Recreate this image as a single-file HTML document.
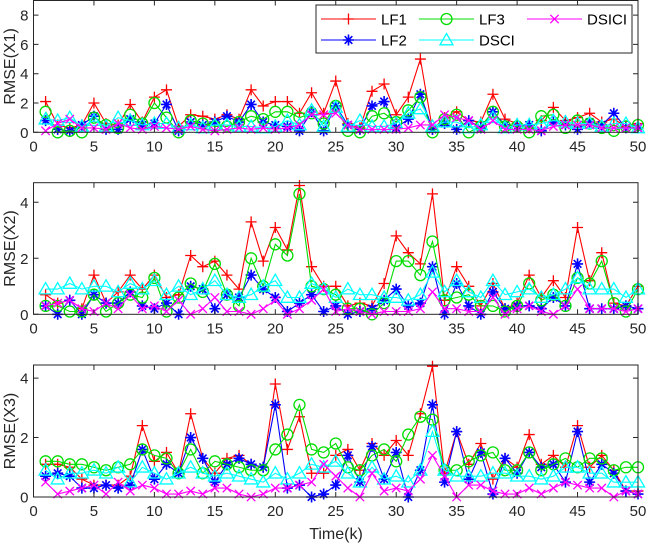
<!DOCTYPE html>
<html><head><meta charset="utf-8"><style>
html,body{margin:0;padding:0;background:#fff;}
svg{display:block;font-family:"Liberation Sans",Arial,sans-serif;}
</style></head><body>
<svg id="chart" width="647" height="546" viewBox="0 0 647 546" xmlns="http://www.w3.org/2000/svg"></svg>
<script>
const timeSteps = Array.from({length:50},(_,i)=>i+1);
const xTicks = [0,5,10,15,20,25,30,35,40,45,50];
const yTicks1 = [0,2,4,6,8];
const yTicks2 = [0,2,4];
const yTicks3 = [0,2,4];
const seriesNames = ["LF1","LF2","LF3","DSCI","DSICI"];
const x1LF1=[2.1,0.5,0.3,0.5,2.0,0.6,0.5,1.9,0.7,2.4,2.9,0.4,1.2,1.1,0.9,1.2,0.9,2.9,1.8,2.1,2.1,1.3,2.7,1.3,3.5,0.6,0.3,2.8,3.3,1.2,2.4,5.0,0.2,1.0,1.4,0.8,0.7,2.6,0.9,0.6,0.3,0.8,1.7,0.8,1.0,1.3,0.7,0.9,0.4,0.6];
const x1LF2=[0.8,0.2,0.1,0.5,1.1,0.2,0.2,0.9,0.5,0.6,1.9,0.1,0.7,0.5,0.7,1.1,0.7,1.9,0.7,0.5,0.4,0.1,1.4,0.1,1.8,0.5,0.2,1.8,2.1,0.3,0.9,2.6,0.2,0.6,0.2,0.8,0.3,1.4,0.5,0.4,0.5,0.1,0.7,0.5,0.2,0.7,0.5,1.3,0.3,0.3];
const x1LF3=[1.4,0,0.1,0,1.0,0.5,0.3,1.2,0.6,2.0,1.0,0,0.8,0.6,0.4,0.4,0.7,1.1,0.9,1.4,1.4,1.0,1.3,0.6,1.8,0.1,0,1.1,1.3,0.7,1.5,2.4,0,0.9,1.2,0,0.4,1.4,0.4,0.4,0,1.1,1.2,0.3,0.8,0.6,0.3,0.1,0.4,0.5];
const x1DSCI=[0.9,0.8,1.0,0.4,0.8,0.4,1.0,0.8,0.5,0.6,0.6,0.3,0.5,0.3,0.5,0.5,0.4,0.4,0.3,0.4,0.8,0.5,1.5,0.4,1.7,0.4,0.8,0.4,0.4,0.6,1.3,1.6,0.4,0.7,0.7,0.3,0.5,1.0,0.3,0.5,0.5,0.6,0.8,0.7,0.6,0.6,0.4,0.6,0.6,0.3];
const x1DSICI=[0.1,0.6,0.9,0.3,0.3,0.2,0.6,0.3,0.2,0.4,0.3,0.2,0.4,0.2,0.1,0.2,0.3,0.2,0.3,0.2,0.3,0.5,1.2,1.2,1.3,0.5,0.2,0.2,0.2,0.2,0.3,0.5,0.5,1.2,1.0,0.8,0.2,0.8,0.2,0.2,0.2,0.1,0.4,0.5,0.5,0.5,0.3,0.3,0.3,0.3];
const x2LF1=[0.7,0.4,0.5,0.2,1.4,0.4,0.8,1.4,0.9,1.4,0.6,0.7,2.1,1.7,1.9,1.4,0.9,3.3,1.9,3.1,2.3,4.6,1.7,1.0,1.0,0.3,0.4,0.3,1.1,2.8,2.2,1.8,4.3,0.5,1.7,1.0,0.3,1.1,0.2,0.4,1.4,0.6,1.2,0.6,3.1,1.2,2.2,0.4,0.3,1.0];
const x2LF2=[0.3,0,0.5,0,0.7,0.4,0.4,0.8,0.3,0.2,0.4,0,1.0,0.9,0.2,0.7,0.6,1.4,0.9,0.6,0.1,0.4,0.7,0.1,0.3,0,0.1,0.2,0.5,0.9,0.3,0.4,1.7,0,1.1,0.3,0,0.8,0.2,0.3,0.3,0.2,0.6,0.3,1.8,0.2,0.2,0.2,0.3,0.2];
const x2LF3=[0.3,0.3,0.1,0.1,0.7,0.1,0.4,0.7,0.6,1.3,0.1,0.6,1.1,0.8,1.8,0.7,0.3,2.0,1.0,2.5,2.1,4.3,1.0,0.9,0.7,0.2,0.2,0,0.4,1.9,1.9,1.4,2.6,0.5,0.6,0.7,0.3,0.3,0.1,0.3,1.1,0.5,0.7,0.3,1.3,1.1,1.9,0.4,0.1,0.9];
const x2DSCI=[0.9,0.9,1.1,0.9,1.0,1.0,0.8,1.1,0.9,1.2,0.7,1.0,0.7,0.9,1.2,0.7,0.6,0.7,1.0,1.2,0.6,0.6,1.1,0.9,0.6,0.9,0.7,0.7,0.6,0.6,0.5,0.7,1.5,0.8,1.2,0.8,0.6,1.2,0.7,0.8,0.9,0.6,0.7,0.9,1.3,0.9,0.9,0.9,0.6,0.9];
const x2DSICI=[0.3,0.4,0.5,0.2,0.1,0.4,0.2,0.7,0.2,0.3,0.1,0.5,0,0.2,0.6,0.1,0.1,0,0.2,0.5,0,0.2,0.5,0.9,0.1,0.2,0.1,0,0.1,0.1,0.1,0.2,0.8,0.2,0.2,0.1,0.1,0.6,0,0.2,0.3,0.1,0,0.3,0.9,0.2,0.2,0.2,0.1,0.2];
const x3LF1=[1.1,1.1,1.0,0.6,0.4,0.4,0.4,0.7,2.4,1.2,1.5,0.8,2.8,1.3,0.8,1.3,1.4,1.1,1.0,3.8,1.6,2.7,0.8,0.8,1.4,1.6,0.9,1.8,1.4,1.9,1.4,2.8,4.4,0.8,2.2,1.1,1.8,0.6,1.3,1.0,2.1,1.1,1.4,1.0,2.4,1.0,1.4,0.9,0.2,0.2];
const x3LF2=[0.7,0.8,0.7,0.3,0.3,0.4,0.3,0.4,1.6,0.6,1.1,0.8,2.0,1.3,0.5,1.1,1.3,1.1,1.0,3.1,0.3,0.4,0,0.1,0.4,1.4,0.5,1.7,0.6,1.5,0,0.9,3.1,0.5,2.2,0.6,1.5,0.1,1.3,0.8,1.5,1.0,1.1,0.5,2.2,0.5,1.1,0.8,0.2,0.1];
const x3LF3=[1.2,1.2,1.1,1.1,1.0,0.9,1.0,1.1,1.6,1.4,1.3,0.8,1.6,0.8,1.2,1.1,1.0,0.9,0.9,1.6,2.1,3.1,1.6,1.5,1.8,1.0,0.9,1.4,1.6,1.2,2.1,2.7,2.6,0.9,0.9,1.2,1.4,1.5,0.9,0.9,1.5,0.9,1.1,1.3,1.0,1.3,1.3,0.9,1.0,1.0];
const x3DSCI=[0.9,0.6,0.8,0.8,0.9,0.8,1.0,0.5,1.0,0.8,0.6,0.8,1.0,0.8,0.7,0.8,0.7,0.6,0.5,0.8,0.6,0.8,1.1,1.0,1.2,0.8,0.5,1.0,0.6,0.7,0.5,0.9,2.2,0.9,0.7,0.7,0.7,0.8,0.8,0.7,0.7,0.6,0.7,1.0,1.0,0.8,0.8,0.5,0.5,0.5];
const x3DSICI=[0.5,0.1,0.2,0.3,0.4,0.1,0.5,0.2,0.4,0.3,0.1,0.1,0.2,0.1,0.3,0.3,0.1,0,0.1,0.3,0.3,0.4,0.5,1.1,0.7,0.3,0,0.8,0.2,0.3,0.2,0.6,1.4,0.7,0,0.4,0.4,0.2,0.1,0.1,0.3,0.1,0.3,0.5,0.4,0.3,0.3,0,0.2,0.1];

const NS="http://www.w3.org/2000/svg";
const svg=document.getElementById('chart');
const colors=["#ff0000","#0000ff","#00dd00","#00ffff","#ff00ff"];
const markers=["plus","star","circle","triangle","cross"];
const X0=33.5,X1=638;
function mk(tag,attrs,parent){const e=document.createElementNS(NS,tag);for(const k in attrs)e.setAttribute(k,attrs[k]);(parent||svg).appendChild(e);return e;}
function drawMarker(g,type,cx,cy,c){
  const s=5.5;
  if(type==="plus"){mk('path',{d:`M${cx-s} ${cy}H${cx+s}M${cx} ${cy-s}V${cy+s}`,stroke:c,'stroke-width':1.3,fill:'none'},g);}
  else if(type==="cross"){const t=4.2;mk('path',{d:`M${cx-t} ${cy-t}L${cx+t} ${cy+t}M${cx-t} ${cy+t}L${cx+t} ${cy-t}`,stroke:c,'stroke-width':1.3,fill:'none'},g);}
  else if(type==="circle"){mk('circle',{cx:cx,cy:cy,r:5.5,stroke:c,'stroke-width':1.3,fill:'none'},g);}
  else if(type==="triangle"){mk('path',{d:`M${cx} ${cy-6.5}L${cx+6.5} ${cy+4.8}L${cx-6.5} ${cy+4.8}Z`,stroke:c,'stroke-width':1.3,fill:'none'},g);}
  else if(type==="star"){const t=3.8;mk('path',{d:`M${cx-s} ${cy}H${cx+s}M${cx} ${cy-s}V${cy+s}M${cx-t} ${cy-t}L${cx+t} ${cy+t}M${cx-t} ${cy+t}L${cx+t} ${cy-t}`,stroke:c,'stroke-width':1.6,fill:'none'},g);}
}
function drawPanel(idx,top,bottom,ymax,yTicks,label,series){
  const xs=v=>X0+(X1-X0)*v/50;
  const ys=v=>bottom-(bottom-top)*v/ymax;
  const g=mk('g',{});
  
  
  series.forEach((vals,si)=>{
    const sg=mk('g',{},g);
    
    
    const pts=vals.map((v,i)=>xs(timeSteps[i]).toFixed(2)+','+ys(v).toFixed(2)).join(' ');
    mk('polyline',{points:pts,fill:'none',stroke:colors[si],'stroke-width':1.1},sg);
    vals.forEach((v,i)=>drawMarker(sg,markers[si],xs(timeSteps[i]),ys(v),colors[si]));
  });
  const box=mk('rect',{x:X0,y:top,width:X1-X0,height:bottom-top,fill:'none',stroke:'#262626','stroke-width':1},g);
  
  
  xTicks.forEach(t=>{
    const x=xs(t);
    mk('path',{d:`M${x} ${bottom}v-5M${x} ${top}v5`,stroke:'#262626','stroke-width':1},g);
    const tx=mk('text',{x:x,y:bottom+19,'text-anchor':'middle','font-size':15,fill:'#262626'},g);
    tx.textContent=t;
    
    
  });
  yTicks.forEach(t=>{
    const y=ys(t);
    mk('path',{d:`M${X0} ${y}h5M${X1} ${y}h-5`,stroke:'#262626','stroke-width':1},g);
    const ty=mk('text',{x:X0-5,y:y+5.5,'text-anchor':'end','font-size':15,fill:'#262626'},g);
    ty.textContent=t;
    
    
  });
  const cy=(top+bottom)/2;
  const yl=mk('text',{x:0,y:0,transform:`translate(15,${cy}) rotate(-90)`,'text-anchor':'middle','font-size':16,fill:'#262626'},g);
  yl.textContent=label;
  
  
}
drawPanel(1,0.5,132.3,9.0,yTicks1,"RMSE(X1)",[x1LF1,x1LF2,x1LF3,x1DSCI,x1DSICI]);
drawPanel(2,182.7,314.3,4.7,yTicks2,"RMSE(X2)",[x2LF1,x2LF2,x2LF3,x2DSCI,x2DSICI]);
drawPanel(3,365,497,4.44,yTicks3,"RMSE(X3)",[x3LF1,x3LF2,x3LF3,x3DSCI,x3DSICI]);

const xl=mk('text',{x:336,y:539,'text-anchor':'middle','font-size':16,fill:'#262626'});
xl.textContent="Time(k)";



const lg=mk('g',{});


mk('rect',{x:316,y:5,width:316,height:48,fill:'#fff',stroke:'#262626','stroke-width':1},lg);
const legPos=[[321,19],[321,40],[419,19],[419,40],[527,19]];
seriesNames.forEach((n,i)=>{
  const [lx,ly]=legPos[i];
  const e=mk('g',{},lg);
  
  
  mk('line',{x1:lx,y1:ly,x2:lx+55,y2:ly,stroke:colors[i],'stroke-width':1.1},e);
  drawMarker(e,markers[i],lx+27.5,ly,colors[i]);
  const t=mk('text',{x:lx+60,y:ly+5.5,'font-size':15,fill:'#000'},e);
  t.textContent=n;
});
</script>
</body></html>
